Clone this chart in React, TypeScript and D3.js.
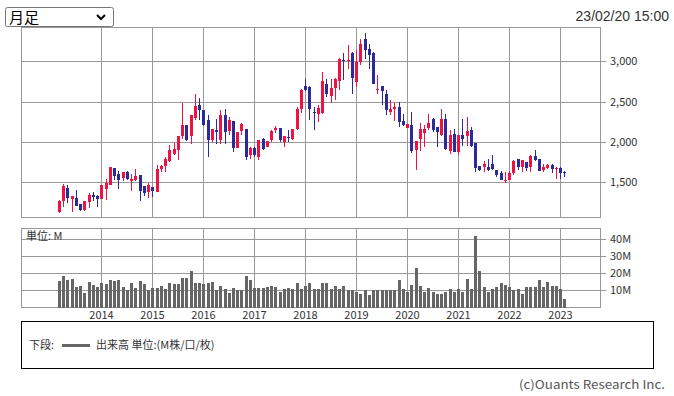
import React from "react";
import * as d3 from "d3";

// monthly bars, Mar 2013 - Feb 2023
const firstMonth = "2013-03";
const opens = [
  1136, 1272, 1429, 1293, 1305, 1231, 1157, 1260, 1343, 1330,
  1297, 1421, 1470, 1677, 1603, 1550, 1624, 1516, 1528, 1590, 1454, 1384,
  1446, 1384, 1665, 1700, 1767, 1850, 1908, 2073, 2210, 2073, 2300, 2457,
  2396, 2272, 2032, 2148, 2024, 2334, 2139, 2259, 1929, 2139, 2160, 1838,
  1933, 1817, 2036, 1941, 2024, 2156, 2177, 2003, 2069, 2036, 2160, 2416,
  2697, 2685, 2375, 2354, 2362, 2718, 2573, 2672, 2759, 3015, 3003, 3110,
  2747, 2995, 3276, 3160, 3110, 2652, 2693, 2600, 2376, 2409, 2438, 2264,
  2181, 2210, 1901, 2037, 2115, 2177, 2293, 2182, 2087, 2293, 1888, 2099,
  1880, 2087, 2074, 2148, 1992, 1702, 1686, 1686, 1735, 1653, 1620, 1521,
  1537, 1612, 1785, 1686, 1756, 1686, 1826, 1785, 1653, 1674, 1715, 1674,
  1674, 1632,
];
const highs = [
  1280, 1479, 1467, 1335, 1404, 1235, 1275, 1364, 1376, 1351,
  1470, 1545, 1690, 1680, 1644, 1631, 1644, 1611, 1673, 1595, 1460, 1488,
  1450, 1714, 1720, 1817, 1962, 1995, 2080, 2490, 2215, 2340, 2602, 2552,
  2400, 2334, 2168, 2292, 2396, 2416, 2313, 2265, 2130, 2239, 2165, 1940,
  1940, 2030, 2057, 2020, 2145, 2201, 2180, 2078, 2148, 2165, 2437, 2664,
  2788, 2690, 2437, 2457, 2870, 2788, 2788, 2795, 3044, 3106, 3201, 3115,
  3148, 3284, 3354, 3222, 3115, 2829, 2698, 2644, 2520, 2491, 2500, 2355,
  2230, 2376, 2020, 2239, 2210, 2347, 2300, 2185, 2409, 2355, 2148, 2169,
  2090, 2281, 2314, 2190, 1995, 1706, 1768, 1785, 1839, 1660, 1640, 1632,
  1645, 1777, 1790, 1780, 1760, 1839, 1901, 1790, 1727, 1735, 1735, 1694,
  1686, 1645,
];
const lows = [
  1125, 1198, 1247, 1136, 1205, 1144, 1150, 1178, 1272, 1190,
  1290, 1281, 1465, 1528, 1421, 1520, 1528, 1396, 1520, 1272, 1334, 1309,
  1322, 1380, 1630, 1631, 1750, 1840, 1776, 2044, 2020, 1974, 2272, 2272,
  2205, 1817, 2003, 1982, 1982, 1982, 2086, 1879, 1925, 2086, 1776, 1797,
  1817, 1776, 1900, 1935, 2003, 2115, 2003, 1941, 2003, 2030, 2148, 2367,
  2638, 2272, 2148, 2251, 2354, 2561, 2490, 2528, 2652, 2776, 2912, 2602,
  2685, 2953, 3036, 2912, 2720, 2602, 2458, 2334, 2342, 2264, 2190, 2200,
  2175, 1868, 1653, 1888, 1942, 2148, 2128, 1942, 2080, 1905, 1851, 1875,
  1839, 1950, 1950, 1945, 1632, 1640, 1632, 1640, 1660, 1570, 1525, 1496,
  1533, 1591, 1653, 1632, 1640, 1632, 1770, 1640, 1632, 1665, 1620, 1541,
  1541, 1562,
];
const closes = [
  1272, 1454, 1309, 1330, 1210, 1157, 1268, 1343, 1322, 1297,
  1467, 1495, 1686, 1582, 1528, 1624, 1541, 1541, 1578, 1396, 1364, 1475,
  1396, 1665, 1706, 1797, 1908, 1912, 2073, 2210, 2024, 2334, 2449, 2396,
  2210, 2032, 2160, 2127, 2334, 2127, 2272, 1929, 2127, 2222, 1817, 1933,
  1838, 2024, 1920, 2016, 2139, 2177, 2024, 2073, 2053, 2160, 2408, 2643,
  2643, 2408, 2362, 2424, 2759, 2594, 2676, 2788, 3035, 3003, 3015, 2801,
  2995, 3222, 3139, 3077, 2726, 2664, 2635, 2400, 2409, 2437, 2252, 2215,
  2222, 1888, 2012, 2157, 2169, 2243, 2148, 2120, 2293, 1909, 2087, 1880,
  2087, 2045, 2136, 1950, 1682, 1653, 1735, 1653, 1665, 1591, 1529, 1529,
  1620, 1764, 1686, 1777, 1682, 1826, 1777, 1645, 1686, 1715, 1661, 1682,
  1620, 1612,
];
// volume, millions
const volumes = [
  15.2, 18.6, 15.9, 16.5, 11.9, 12.3, 8.4, 14.8, 13.0, 12.1,
  14.2, 13.6, 15.8, 15.3, 15.8, 11.9, 9.9, 14.1, 11.2, 15.7, 13.7, 9.9,
  11.2, 11.2, 12.4, 10.9, 14.1, 13.7, 13.7, 17.0, 17.0, 21.5, 14.1, 14.1,
  13.7, 14.3, 14.7, 9.9, 12.8, 10.5, 8.4, 11.2, 9.9, 9.9, 18.1, 16.2,
  11.2, 11.2, 11.2, 11.8, 12.8, 11.8, 9.0, 10.9, 11.2, 10.9, 14.1, 10.9,
  12.4, 14.1, 10.5, 10.5, 14.1, 14.1, 10.5, 12.4, 10.5, 12.4, 9.9, 9.9,
  9.0, 7.6, 9.9, 7.0, 9.9, 9.9, 9.9, 9.9, 9.9, 9.9, 16.2, 10.9,
  9.3, 13.1, 23.2, 12.8, 9.0, 11.2, 9.3, 8.0, 8.0, 9.0, 10.9, 9.3,
  10.9, 9.3, 16.6, 10.9, 41.9, 21.3, 12.2, 9.0, 10.9, 12.2, 14.3, 13.1,
  11.8, 9.9, 10.9, 7.6, 11.8, 12.2, 11.8, 16.2, 11.8, 14.7, 12.8, 12.8,
  10.5, 4.8,
];
const priceTicks = [1500, 2000, 2500, 3000];
const volumeTicks = [10, 20, 30, 40];
const yearLabels = ["2014", "2015", "2016", "2017", "2018", "2019", "2020", "2021", "2022", "2023"];

const W = 674;
const H = 396;
const UP = "#ee1144";
const DOWN = "#2b2a99";
const GRID = "#999999";
const FONT = "'Noto Sans CJK JP', 'Noto Sans', sans-serif";

const startYear = +firstMonth.slice(0, 4);
const startMon = +firstMonth.slice(5, 7);
const monthIndex = (y: number, m: number) => (y - startYear) * 12 + (m - startMon);

export default function App() {
  const left = 21, right = 600.5;
  const pTop = 27.5, pBottom = 217.5;
  const vTop = 228.5, vBottom = 307.5;

  const x = d3.scaleLinear().domain([-8.9, 127.5]).range([left, right]);
  const y = d3.scaleLinear().domain([1066, 3421]).range([pBottom, pTop]);
  const yv = d3.scaleLinear().domain([0, 46]).range([vBottom, vTop]);

  const bw = 3;
  const yearX = yearLabels.map((yr) => Math.round(x(monthIndex(+yr, 1))) + 0.5);

  return (
    <svg
      width={W}
      height={H}
      style={{ position: "absolute", left: 0, top: 0, background: "#fff" }}
      fontFamily={FONT}
    >
      {/* period selector */}
      <rect x={5.5} y={7.5} width={108} height={19} rx={2} fill="#fff" stroke="#767676" />
      <text x={9} y={23} fontSize={15} fill="#000">月足</text>
      <path d="M97,15 l4,4 l4,-4" fill="none" stroke="#000" strokeWidth={2} />
      <text x={669} y={21} fontSize={14} textAnchor="end" fill="#333" fontFamily="'Liberation Sans', Arial, sans-serif">
        23/02/20 15:00
      </text>

      {/* price panel */}
      <g shapeRendering="crispEdges">
        {yearX.map((gx, i) => (
          <line key={"pg" + i} x1={gx} x2={gx} y1={pTop} y2={pBottom} stroke={GRID} />
        ))}
        {priceTicks.map((t) => (
          <line key={"ph" + t} x1={left} x2={right + 5} y1={Math.round(y(t)) + 0.5} y2={Math.round(y(t)) + 0.5} stroke={GRID} />
        ))}
        <rect x={left} y={pTop} width={right - left} height={pBottom - pTop} fill="none" stroke={GRID} />
      </g>
      {priceTicks.map((t) => (
        <text key={"pt" + t} x={610} y={y(t) + 4} fontSize={11} fill="#333">
          {d3.format(",")(t)}
        </text>
      ))}
      <g shapeRendering="crispEdges">
        {opens.map((o, i) => {
          const c = closes[i];
          const col = c >= o ? UP : DOWN;
          const cx = Math.round(x(i));
          const top = y(Math.max(o, c));
          const bot = y(Math.min(o, c));
          return (
            <g key={"c" + i}>
              <line x1={cx + 0.5} x2={cx + 0.5} y1={y(highs[i])} y2={y(lows[i])} stroke={col} />
              <rect x={cx - 1} y={top} width={bw} height={Math.max(1, bot - top)} fill={col} />
            </g>
          );
        })}
      </g>

      {/* volume panel */}
      <g shapeRendering="crispEdges">
        {yearX.map((gx, i) => (
          <line key={"vg" + i} x1={gx} x2={gx} y1={vTop} y2={vBottom} stroke={GRID} />
        ))}
        {volumeTicks.map((t) => (
          <line key={"vh" + t} x1={left} x2={right + 5} y1={Math.round(yv(t)) + 0.5} y2={Math.round(yv(t)) + 0.5} stroke={GRID} />
        ))}
        <rect x={left} y={vTop} width={right - left} height={vBottom - vTop} fill="none" stroke={GRID} />
        {volumes.map((v, i) => (
          <rect key={"v" + i} x={Math.round(x(i)) - 1} y={yv(v)} width={bw} height={vBottom - yv(v)} fill="#666" />
        ))}
      </g>
      <text x={26} y={240} fontSize={11} fill="#333">単位: M</text>
      {volumeTicks.map((t) => (
        <text key={"vt" + t} x={610} y={yv(t) + 4} fontSize={11} fill="#333">
          {t}M
        </text>
      ))}
      {yearLabels.map((yr, i) => (
        <text key={"yl" + yr} x={yearX[i]} y={319} fontSize={11} textAnchor="middle" fill="#333">
          {yr}
        </text>
      ))}

      {/* legend */}
      <rect x={21.5} y={321.5} width={632} height={47} fill="none" stroke="#000" shapeRendering="crispEdges" />
      <text x={29} y={349} fontSize={11} fill="#333">下段:</text>
      <line x1={62} x2={90} y1={345.5} y2={345.5} stroke="#666" strokeWidth={3} />
      <text x={96} y={349} fontSize={11} fill="#333">出来高 単位:(M株/口/枚)</text>
      <text x={665} y={389} fontSize={12} textAnchor="end" fill="#555" textLength={146} lengthAdjust="spacingAndGlyphs">
        (c)Ouants Research Inc.
      </text>
    </svg>
  );
}
